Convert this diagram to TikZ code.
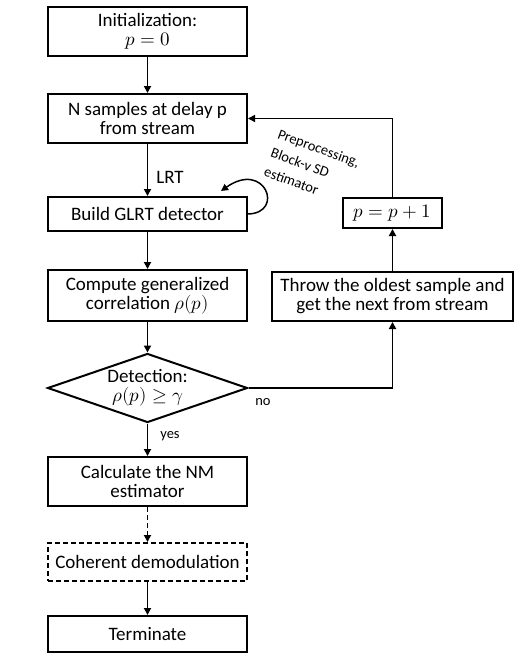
\documentclass[tikz,border=0pt]{standalone}
\usepackage{fontspec}
\setmainfont{Carlito}
\usepackage{unicode-math}
\setmathfont{Latin Modern Math}
\usetikzlibrary{shapes.geometric,arrows.meta}

\begin{document}
\begin{tikzpicture}[x=1pt, y=-1pt,
    font=\fontsize{19}{19}\selectfont,
    box/.style={draw, line width=2pt, minimum width=199pt, align=center, inner sep=2pt},
    flow/.style={line width=1.8pt, -{Triangle[length=7pt,width=7pt]}},
    small/.style={font=\fontsize{14.5}{20}\selectfont}]
    \useasboundingbox (0,0) rectangle (520,661);

    % Main column
    \node[box, minimum height=49pt] (init) at (147.5,31.5) {Initialization:\\$p=0$};
    \node[box, minimum height=49pt] (samp) at (147.5,118.5) {N samples at delay p\\from stream};
    \node[box, minimum height=34pt] (glrt) at (147.5,214) {Build GLRT detector};
    \node[box, minimum height=51pt] (corr) at (147.5,295.5) {Compute generalized\\correlation $\rho(p)$};
    \node[draw, diamond, line width=2pt, aspect=2.9, inner sep=0pt, minimum width=200pt, minimum height=69pt, align=center] (detect) at (147.5,388) {Detection:\\$\rho(p)\geq\gamma$};
    \node[box, minimum height=49pt] (nmest) at (147.5,481.5) {Calculate the NM\\estimator};
    \node[box, dash pattern=on 5pt off 3pt, minimum height=38pt] (demod) at (147.5,562) {Coherent demodulation};
    \node[box, minimum height=36pt] (term) at (147.5,634) {Terminate};

    % Feedback column
    \node[box, minimum width=241pt, minimum height=49pt] (throw) at (392.5,296.5) {Throw the oldest sample and\\get the next from stream};
    \node[box, minimum width=99pt, minimum height=30pt] (incr) at (392.5,213) {$p=p+1$};

    \draw[flow] (init) -- (samp);
    \draw[flow] (samp) -- (glrt);
    \draw[flow] (glrt) -- (corr);
    \draw[flow] (corr) -- (detect);
    \draw[flow] (detect) -- (nmest);
    \draw[flow, dash pattern=on 5pt off 3pt] (nmest) -- (demod);
    \draw[flow] (demod) -- (term);
    \draw[flow] (detect.east) -| (throw.south);
    \draw[flow] (throw) -- (incr);
    \draw[flow, line width=1.3pt] (incr.north) |- (samp.east);

    % Self loop
    \coordinate (loopend) at (221,191);
    \draw[flow, line width=1.5pt] (glrt.east) .. controls (285,213) and (265,160) .. (loopend);

    % Labels
    \node (lrt) at (170,177) {LRT};
    \node[small] (yes) at (170,436) {yes};
    \node[small] (no) at (263,402) {no};
    \node[small, rotate=-20, align=left] (prep) at (312,167) {Preprocessing,\\Block-v SD\\estimator};
\end{tikzpicture}
\end{document}
